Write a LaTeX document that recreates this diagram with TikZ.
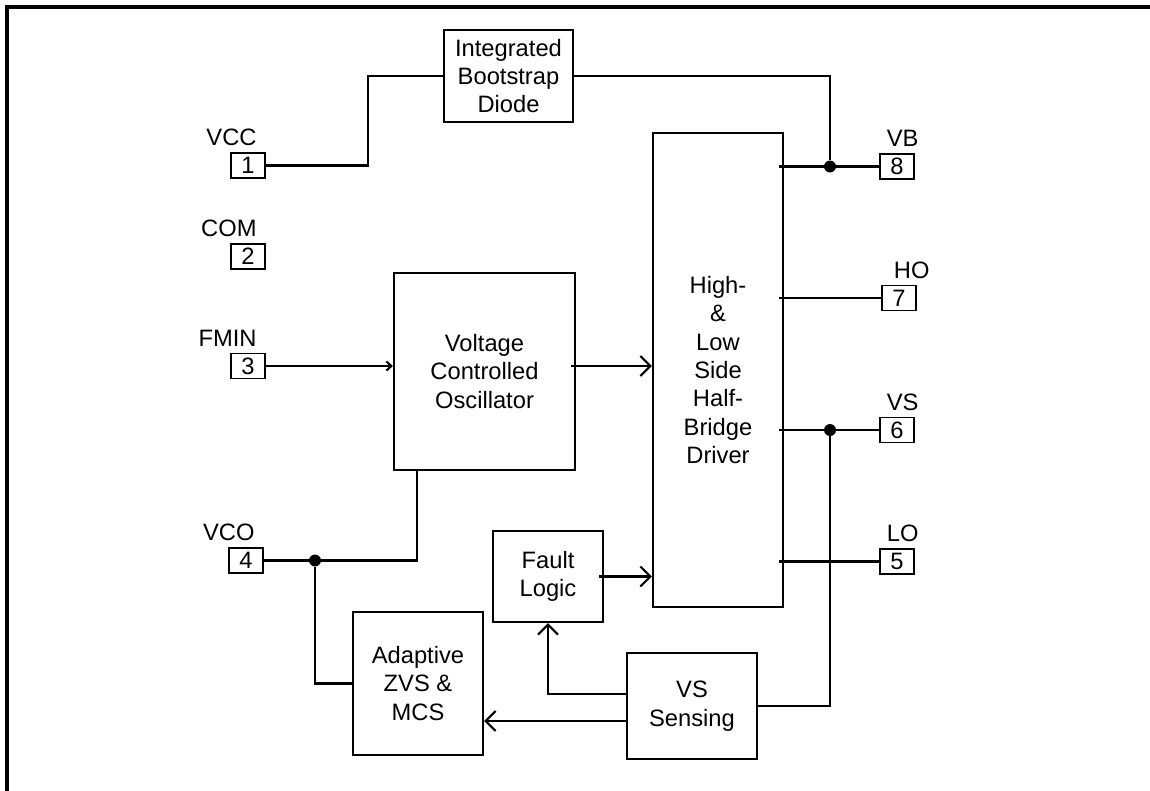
\documentclass[tikz,border=0pt]{standalone}
\usepackage{fontspec}
\setmainfont{Liberation Sans}
\usetikzlibrary{arrows.meta,positioning}

\begin{document}
\begin{tikzpicture}[
  x=0.02cm, y=-0.02cm,
  font=\fontsize{13.5}{16.2}\selectfont,
  box/.style={draw, line width=1.2pt, align=center, inner sep=0pt},
  pin/.style={draw, line width=1pt, inner sep=0pt, minimum width=6.8mm,
    minimum height=5mm},
  pinlbl/.style={inner sep=0pt},
  dot/.style={circle, fill, inner sep=0pt, minimum size=2.4mm},
  wire/.style={line width=1.2pt},
  arrow/.style={wire, -{Straight Barb[length=2mm, width=4mm]}},
  smallarrow/.style={wire, -{Straight Barb[length=1mm, width=1.8mm]}}
]
\useasboundingbox (0,0) rectangle (1150,791);
\draw[line width=2pt] (7,791) -- (7,7) -- (1150,7);

% blocks
\node[box, minimum width=2.58cm, minimum height=1.84cm] (boot) at (508.5,76)
  {Integrated\\Bootstrap\\Diode};
\node[box, minimum width=3.62cm, minimum height=3.94cm] (vco) at (484.5,371.5)
  {Voltage\\Controlled\\Oscillator};
\node[box, minimum width=2.6cm, minimum height=9.48cm] (drv) at (718,370)
  {High-\\\&\\Low\\Side\\Half-\\Bridge\\Driver};
\node[box, minimum width=2.2cm, minimum height=1.82cm] (fault) at (548,576.5)
  {Fault\\Logic};
\node[box, minimum width=2.6cm, minimum height=2.86cm] (adapt) at (418,683.5)
  {Adaptive\\ZVS \&\\MCS};
\node[box, minimum width=2.6cm, minimum height=2.12cm] (sense) at (692,706)
  {VS\\Sensing};

% pins
\node[pin] (p1) at (248,165.5) {1};
\node[pin] (p2) at (248,256.5) {2};
\node[pin] (p3) at (248,366) {3};
\node[pin] (p4) at (246,560.5) {4};
\node[pin] (p8) at (897,166.5) {8};
\node[pin] (p7) at (899,298) {7};
\node[pin] (p6) at (897,430) {6};
\node[pin] (p5) at (897,561.5) {5};

\node[pinlbl, above left=1.2mm and 1.8mm of p1.north east] (lvcc) {VCC};
\node[pinlbl, above left=1.2mm and 1.8mm of p2.north east] (lcom) {COM};
\node[pinlbl, above left=1.2mm and 1.8mm of p3.north east] (lfmin) {FMIN};
\node[pinlbl, above left=1.2mm and 1.8mm of p4.north east] (lvco) {VCO};
\node[pinlbl, above left=1.2mm and -0.8mm of p8.north east] (lvb) {VB};
\node[pinlbl, above left=1.2mm and -2.6mm of p7.north east] (lho) {HO};
\node[pinlbl, above left=1.2mm and -0.8mm of p6.north east] (lvs) {VS};
\node[pinlbl, above left=1.2mm and -0.8mm of p5.north east] (llo) {LO};

% junctions
\node[dot] (vbdot) at (830,166.5) {};
\node[dot] (vsdot) at (830,430) {};
\node[dot] (vcodot) at (315,560.5) {};

% connections
\draw[wire] (p1.east) -- (368,165.5) |- (boot.west);
\draw[wire] (boot.east) -| (vbdot);
\draw[wire] ([xshift=-1mm]drv.east |- p8.west) -- (p8.west);
\draw[wire] ([xshift=-1mm]drv.east |- p7.west) -- (p7.west);
\draw[wire] ([xshift=-1mm]drv.east |- p6.west) -- (p6.west);
\draw[wire] ([xshift=-1mm]drv.east |- p5.west) -- (p5.west);
\draw[smallarrow] (p3.east) -- (vco.west |- p3.east);
\draw[arrow] ([xshift=-1mm]vco.east |- p3.east) -- (drv.west |- p3.east);
\draw[arrow] ([xshift=-1mm]fault.east) -- (drv.west |- fault.east);
\draw[wire] (p4.east) -| ([xshift=4.8mm]vco.south west);
\draw[wire] (vcodot) |- (adapt.west);
\draw[wire] (vsdot) |- (sense.east);
\draw[arrow] ([yshift=2.4mm]sense.west) -| (fault.south);
\draw[arrow] ([yshift=-3mm]sense.west) -- ([yshift=-3mm]sense.west -| adapt.east);
\end{tikzpicture}
\end{document}
